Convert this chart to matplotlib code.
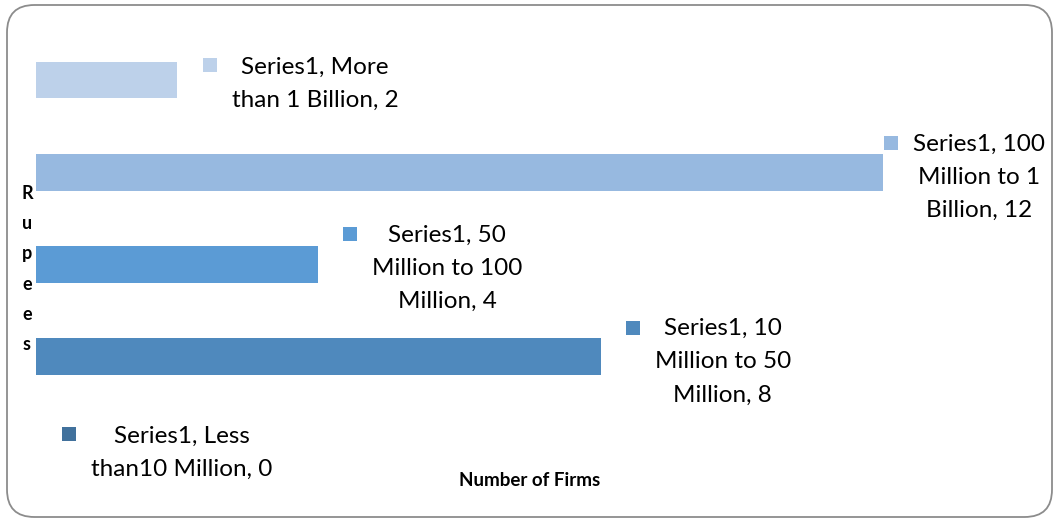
import matplotlib
matplotlib.use('Agg')
import matplotlib.pyplot as plt
from matplotlib.patches import FancyBboxPatch, Rectangle

plt.rcParams['font.family'] = ['Lato', 'DejaVu Sans']

# Firm counts per turnover band (bottom to top)
bands = ['Less than10 Million', '10 Million to 50 Million', '50 Million to 100 Million',
         '100 Million to 1 Billion', 'More than 1 Billion']
firms = [0, 8, 4, 12, 2]
series_name = 'Series1'

# Data label text, wrapped the way the spreadsheet did it
label_lines = [
    ['Series1, Less', 'than10 Million, 0'],
    ['Series1, 10', 'Million to 50', 'Million, 8'],
    ['Series1, 50', 'Million to 100', 'Million, 4'],
    ['Series1, 100', 'Million to 1', 'Billion, 12'],
    ['Series1, More', 'than 1 Billion, 2'],
]
bar_colors = ['#41719c', '#4f89bd', '#5b9bd5', '#97b9e0', '#bdd1ea']
# label block centre, in pixels relative to the bar end (y measured downwards)
label_offsets = [(146, 4), (122, 5), (129, 4), (96, 5), (138, 4)]

W, H, DPI = 1054, 522, 100
fig = plt.figure(figsize=(W / DPI, H / DPI), dpi=DPI)

# rounded chart-area frame
frame = FancyBboxPatch((7 / W, 5 / H), (1052 - 7) / W, (517 - 5) / H,
                       boxstyle='round,pad=0,rounding_size=0.026',
                       transform=fig.transFigure, facecolor='white',
                       edgecolor='#8c8c8c', linewidth=1.3, mutation_aspect=W / H,
                       zorder=-5)
fig.patches.append(frame)

x0, x12 = 36, 883
px_per = (x12 - x0) / 12
xmax = 14
ax_left = x0 / W
ax_width = px_per * xmax / W
row = 92.25
top_px = 80 - row / 2
bot_px = 449 + row / 2
ax = fig.add_axes([ax_left, (H - bot_px) / H, ax_width, (bot_px - top_px) / H])
ax.patch.set_alpha(0)
ax.set_xlim(0, xmax)
ax.set_ylim(-0.5, len(firms) - 0.5)
ax.axis('off')

ypos = list(range(len(firms)))
ax.barh(ypos, firms, height=0.4, color=bar_colors, left=0)

fig.canvas.draw()
renderer = fig.canvas.get_renderer()

for i, (v, lines) in enumerate(zip(firms, label_lines)):
    # bar end in display pixels
    bx, by = ax.transData.transform((v, ypos[i]))
    dx, dy = label_offsets[i]
    cx, cy = bx + dx, by - dy
    t = fig.text(cx / W, cy / H, '\n'.join(lines), ha='center', va='center',
                 multialignment='center', fontsize=17.5, linespacing=1.72,
                 color='black')
    bb = t.get_window_extent(renderer)
    line_h = bb.height / len(lines)
    my = bb.y1 - line_h / 2 + 5
    sq = 14
    fig.patches.append(Rectangle(((bb.x0 - 15 - sq) / W, (my - sq / 2) / H), sq / W, sq / H,
                                 transform=fig.transFigure, facecolor=bar_colors[i],
                                 edgecolor='none'))

# axis titles
fig.text(27 / W, (H - 269) / H, '\n'.join('Rupees'), ha='center', va='center',
         fontsize=13, fontweight='bold', linespacing=1.95)
fig.text(530 / W, (H - 480) / H, 'Number of Firms', ha='center', va='center',
         fontsize=13.5, fontweight='bold')

fig.savefig('out.png', dpi=DPI)
